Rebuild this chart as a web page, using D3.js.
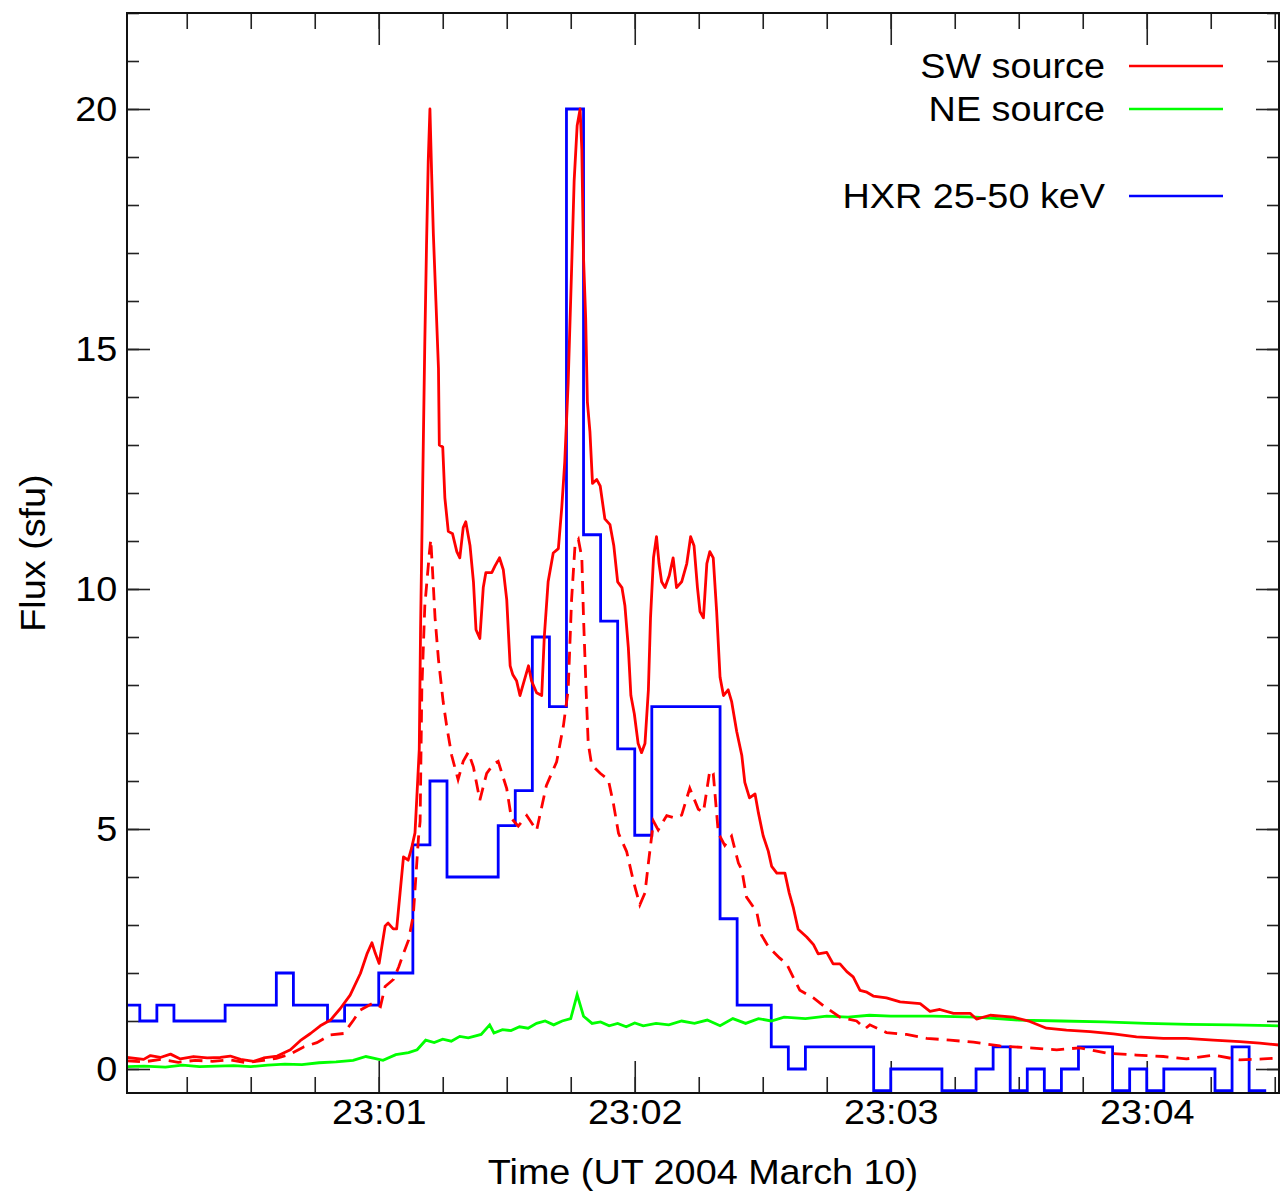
<!DOCTYPE html>
<html>
<head>
<meta charset="utf-8">
<script src="https://cdn.jsdelivr.net/npm/d3@7"></script>
<style>
  body { margin: 0; background: #fff; }
  svg { display: block; }
  text { font-family: "Liberation Sans", Arial, Helvetica, sans-serif; fill: #000; }
</style>
</head>
<body>
<svg width="1283" height="1196"></svg>
<script>
// --- data (time in seconds after 23:00:00 UT, flux in sfu) ---
const swTime = [1, 4.9, 6.5, 8.8, 11.2, 13.5, 16.6, 19.8, 22.9, 25.2, 27.6, 30.7, 33, 36.2, 39.3, 41.6, 44, 46.3, 48.7, 51,
  53.3, 55.7, 57.3, 58.4, 59.2, 60.1, 61.5, 62.2, 63.4, 64.2, 65.0, 65.8, 66.9, 67.7, 68.5, 69.0, 69.5, 69.8, 70.3, 70.8,
  71.2, 71.6, 72.0, 72.4, 72.8, 73.4, 74.0, 74.2, 75.0, 75.5, 76.3, 77.3, 78.3, 79.0, 79.8, 80.4, 81.4, 82.2, 82.8, 83.7,
  84.5, 85.1, 86.5, 87.2, 88.3, 89.2, 90.0, 90.8, 91.4, 92.3, 93.1, 93.9, 95.1, 95.8, 97.0, 98.2, 98.8, 99.7, 100.9, 102.1,
  102.9, 103.6, 104.4, 105.2, 105.8, 106.5, 107.2, 107.6, 108.0, 108.5, 108.9, 109.5, 110.1, 111.1, 111.9, 113.0, 114.2, 115.1, 116.0, 117.0,
  117.7, 118.5, 119.1, 119.9, 120.8, 121.6, 122.4, 123.2, 123.7, 124.4, 125.1, 125.7, 126.3, 127.1, 128.1, 129.0, 129.8, 131.0, 132.2, 133.1,
  133.9, 134.7, 135.3, 136.1, 136.9, 137.6, 138.4, 139.2, 140.0, 140.8, 141.9, 142.7, 143.9, 145.1, 145.8, 146.9, 148.2, 149.0, 150.1, 151.3,
  152.1, 153.3, 155.2, 156.2, 157.2, 158.3, 160.3, 161.9, 163.0, 165.0, 166.5, 168.1, 169.7, 171.2, 172.8, 174.4, 175.9, 179.0, 182.2, 186.9,
  189.2, 191.5, 194.7, 198.6, 200.1, 203.3, 208.7, 212.6, 216.5, 221.2, 226.7, 232.2, 237.6, 243.9, 249.3, 255.6, 261.8, 266.5, 271];
const swFlux = [0.24, 0.2, 0.28, 0.24, 0.31, 0.21, 0.26, 0.23, 0.24, 0.27, 0.2, 0.16, 0.23, 0.27, 0.4, 0.59, 0.74, 0.9, 1.02, 1.26,
  1.54, 1.99, 2.41, 2.63, 2.41, 2.2, 2.98, 3.04, 2.92, 2.92, 3.67, 4.42, 4.35, 4.6, 4.92, 5.78, 6.66, 9.15, 12.15, 15.15,
  17.15, 18.9, 20.0, 18.65, 17.4, 16.0, 14.6, 13.0, 12.96, 11.9, 11.2, 11.15, 10.78, 10.65, 11.28, 11.4, 10.9, 10.15, 9.15, 8.97,
  10.03, 10.34, 10.34, 10.47, 10.65, 10.4, 9.78, 8.4, 8.22, 8.09, 7.78, 8.03, 8.4, 8.09, 7.84, 7.78, 9.0, 10.15, 10.75, 10.84,
  11.7, 12.65, 14.3, 16.65, 18.5, 19.65, 20.0, 19.15, 16.9, 15.65, 13.9, 13.28, 12.2, 12.28, 12.15, 11.46, 11.34, 10.9, 10.15, 10.03,
  9.65, 8.78, 7.78, 7.4, 6.78, 6.59, 6.78, 7.9, 9.4, 10.65, 11.09, 10.53, 10.15, 10.03, 10.28, 10.65, 10.03, 10.15, 10.53, 11.09,
  10.9, 10.03, 9.53, 9.4, 10.53, 10.78, 10.65, 9.53, 8.16, 7.78, 7.9, 7.66, 7.03, 6.53, 5.97, 5.65, 5.73, 5.33, 4.86, 4.54,
  4.22, 4.08, 4.08, 3.67, 3.35, 2.91, 2.75, 2.59, 2.4, 2.43, 2.19, 2.19, 2.03, 1.92, 1.64, 1.6, 1.52, 1.48, 1.4, 1.36,
  1.2, 1.24, 1.16, 1.16, 1.04, 1.12, 1.08, 0.99, 0.85, 0.81, 0.78, 0.73, 0.67, 0.64, 0.64, 0.6, 0.57, 0.54, 0.5];

const swDashTime = [1, 5, 9, 13, 17, 21, 25, 29, 33, 36, 39, 42.4, 45.5, 48.7, 51.8, 54.1, 55.7, 58.8, 60.4, 61.5,
  63.5, 64.7, 65.8, 67, 68.1, 69.3, 69.7, 70.1, 70.8, 71.9, 72.2, 72.6, 73.2, 74.0, 75.1, 75.9, 77.1, 78.6, 79.8, 81.0,
  82.2, 83.7, 85.3, 86.9, 88.0, 90.0, 91.1, 92.7, 94.7, 97.0, 99.3, 101.7, 103.3, 104.4, 105.2, 106.0, 106.8, 107.6, 108.0, 108.6,
  109.1, 109.9, 111.9, 113.8, 115.0, 116.2, 118.1, 119.7, 121.2, 122.4, 123.2, 124.4, 125.5, 127.5, 129.4, 131.0, 132.9, 134.9, 136.1, 137.6,
  138.4, 139.6, 141.1, 142.7, 144.3, 145.1, 146.2, 148.6, 149.7, 151.3, 154.0, 155.6, 157.6, 158.7, 161.9, 164.2, 168.1, 172.0, 174.0, 175.1,
  179.0, 183.7, 188.4, 193.9, 199.4, 205.6, 212.6, 218.9, 224.3, 230.6, 237.6, 243.9, 249.3, 255.6, 261.8, 267.3, 271];
const swDashFlux = [0.17, 0.15, 0.2, 0.14, 0.18, 0.16, 0.19, 0.13, 0.18, 0.22, 0.3, 0.46, 0.55, 0.71, 0.74, 1.02, 1.23, 1.38, 1.3, 1.72,
  1.87, 2.13, 2.41, 2.69, 3.2, 4.8, 5.16, 7.9, 9.65, 10.78, 11.03, 10.4, 9.4, 8.53, 7.65, 7.16, 6.53, 6.03, 6.41, 6.6,
  6.29, 5.6, 6.16, 6.35, 6.41, 5.84, 5.22, 5.06, 5.28, 4.97, 5.91, 6.4, 7.16, 7.9, 9.78, 10.9, 11.03, 10.65, 9.4, 7.9,
  6.78, 6.34, 6.16, 6.03, 5.53, 4.91, 4.53, 3.91, 3.42, 3.67, 4.29, 5.16, 4.98, 5.28, 5.23, 5.29, 5.85, 5.41, 5.35, 6.22,
  6.16, 4.91, 4.66, 4.85, 4.29, 4.15, 3.58, 3.27, 2.79, 2.55, 2.31, 2.19, 1.83, 1.64, 1.48, 1.32, 1.08, 1.0, 0.84, 0.92,
  0.76, 0.72, 0.64, 0.6, 0.56, 0.48, 0.44, 0.4, 0.44, 0.33, 0.29, 0.26, 0.21, 0.29, 0.19, 0.21, 0.23];

const neTime = [1, 5, 10, 14, 18, 22, 26, 30, 34, 38, 42, 46, 50, 54, 57, 59, 61, 64, 67, 69,
  71, 73, 75, 77, 79, 81, 84, 86, 87, 89, 91, 93, 95, 97, 99, 101, 103, 105, 106.5, 108,
  110, 112, 114, 116, 118, 120, 122, 125, 128, 131, 134, 137, 140, 143, 146, 149, 152, 155, 160, 165,
  170, 175, 180, 190, 200, 210, 220, 230, 240, 250, 260, 271];
const neFlux = [0.05, 0.06, 0.04, 0.08, 0.05, 0.06, 0.07, 0.05, 0.08, 0.1, 0.09, 0.13, 0.15, 0.18, 0.26, 0.22, 0.18, 0.3, 0.34, 0.4,
  0.6, 0.55, 0.62, 0.58, 0.68, 0.65, 0.72, 0.92, 0.75, 0.82, 0.8, 0.88, 0.85, 0.95, 1.0, 0.92, 1.0, 1.05, 1.55, 1.1,
  0.95, 0.98, 0.9, 0.95, 0.88, 0.96, 0.9, 0.95, 0.92, 1.0, 0.95, 1.02, 0.9, 1.05, 0.95, 1.05, 1.0, 1.08, 1.05, 1.1,
  1.08, 1.12, 1.1, 1.1, 1.08, 1.02, 1.0, 0.98, 0.95, 0.93, 0.92, 0.9];

// HXR count-rate steps: edges (s) and level in each step
const hxrEdges = [0, 4, 8, 12, 24, 36, 40, 48, 52, 60, 68, 72, 76, 88, 92, 96, 100, 104, 108, 112,
  116, 120, 124, 140, 144, 152, 156, 160, 176, 180, 192, 200, 204, 208, 212, 216, 220, 224, 232, 236,
  240, 244, 256, 260, 264, 268];
const hxrFlux = [1.33, 1.0, 1.33, 1.0, 1.33, 2.0, 1.33, 1.0, 1.33, 2.0, 4.67, 6.0, 4.0, 5.07, 5.8, 9.0, 7.55, 20.0, 11.13, 9.33,
  6.67, 4.87, 7.55, 3.13, 1.33, 0.46, 0.0, 0.46, -0.45, 0.0, -0.45, 0.0, 0.46, -0.45, 0.0, -0.45, 0.0, 0.46, -0.45, 0.0,
  -0.45, 0.0, -0.45, 0.46, -0.45];

const xMajorTicks = [60, 120, 180, 240];
const yMajorTicks = [0, 5, 10, 15, 20];

const legendItems = [
  { label: "SW source", color: "#ff0000", y: 66 },
  { label: "NE source", color: "#00ff00", y: 109 },
  { label: "HXR 25-50 keV", color: "#0000ff", y: 196 }
];

// --- layout ---
const svg = d3.select("svg");
const plotL = 127, plotR = 1279, plotT = 13, plotB = 1093;
const fontSize = 35, stretch = 1.08;
const t0 = Date.UTC(2004, 2, 10, 23, 0, 0);
const toDate = s => new Date(t0 + s * 1000);

const x = d3.scaleUtc().domain([toDate(1), toDate(271)]).range([plotL, plotR]);
const y = d3.scaleLinear().domain([-0.5, 22]).range([plotB, plotT]);

const xMinor = x.ticks(d3.utcSecond.every(15));
const yMinor = d3.range(0, 23);

svg.append("defs").append("clipPath").attr("id", "plot")
  .append("rect").attr("x", plotL).attr("y", plotT).attr("width", plotR - plotL).attr("height", plotB - plotT);

function styleAxis(g) {
  g.select(".domain").remove();
  g.selectAll(".tick line").attr("stroke", "#222").attr("stroke-width", 1.6);
  g.selectAll("text").attr("font-size", fontSize).attr("font-family", null)
    .attr("transform", `scale(${stretch},1)`);
}

// minor ticks
svg.append("g").attr("transform", `translate(0,${plotB})`)
  .call(d3.axisBottom(x).tickValues(xMinor).tickSize(-16).tickFormat("")).call(styleAxis);
svg.append("g").attr("transform", `translate(0,${plotT})`)
  .call(d3.axisTop(x).tickValues(xMinor).tickSize(-16).tickFormat("")).call(styleAxis);
svg.append("g").attr("transform", `translate(${plotL},0)`)
  .call(d3.axisLeft(y).tickValues(yMinor).tickSize(-12).tickFormat("")).call(styleAxis);
svg.append("g").attr("transform", `translate(${plotR},0)`)
  .call(d3.axisRight(y).tickValues(yMinor).tickSize(-12).tickFormat("")).call(styleAxis);

// major ticks
svg.append("g").attr("transform", `translate(0,${plotB})`)
  .call(d3.axisBottom(x).tickValues(xMajorTicks.map(toDate)).tickSize(-32).tickPadding(6)
    .tickFormat(d3.utcFormat("%H:%M"))).call(styleAxis);
svg.append("g").attr("transform", `translate(0,${plotT})`)
  .call(d3.axisTop(x).tickValues(xMajorTicks.map(toDate)).tickSize(-32).tickFormat("")).call(styleAxis);
svg.append("g").attr("transform", `translate(${plotL},0)`)
  .call(d3.axisLeft(y).tickValues(yMajorTicks).tickSize(-23).tickPadding(9)).call(styleAxis);
svg.append("g").attr("transform", `translate(${plotR},0)`)
  .call(d3.axisRight(y).tickValues(yMajorTicks).tickSize(-23).tickFormat("")).call(styleAxis);

// data
const plot = svg.append("g").attr("clip-path", "url(#plot)");
const line = d3.line().x(d => x(toDate(d[0]))).y(d => y(d[1]));

const hxrPts = hxrFlux.map((v, i) => [hxrEdges[i], v]);
hxrPts.push([hxrEdges[hxrEdges.length - 1], hxrFlux[hxrFlux.length - 1]]);

plot.append("path").datum(hxrPts)
  .attr("d", line.curve(d3.curveStepAfter))
  .attr("fill", "none").attr("stroke", "#0000ff").attr("stroke-width", 2.8);
line.curve(d3.curveLinear);

plot.append("path").datum(neTime.map((t, i) => [t, neFlux[i]]))
  .attr("d", line).attr("fill", "none").attr("stroke", "#00ff00").attr("stroke-width", 2.8);

plot.append("path").datum(swDashTime.map((t, i) => [t, swDashFlux[i]]))
  .attr("d", line).attr("fill", "none").attr("stroke", "#ff0000").attr("stroke-width", 2.8)
  .attr("stroke-dasharray", "13,8");

plot.append("path").datum(swTime.map((t, i) => [t, swFlux[i]]))
  .attr("d", line).attr("fill", "none").attr("stroke", "#ff0000").attr("stroke-width", 2.8)
  .attr("stroke-linejoin", "round");

// frame
svg.append("rect").attr("x", plotL).attr("y", plotT).attr("width", plotR - plotL).attr("height", plotB - plotT)
  .attr("fill", "none").attr("stroke", "#111").attr("stroke-width", 2);

// axis titles
svg.append("text").attr("transform", `translate(${(plotL + plotR) / 2},1184) scale(${stretch},1)`)
  .attr("text-anchor", "middle").attr("font-size", fontSize).text("Time (UT 2004 March 10)");
svg.append("text").attr("transform", `translate(45,${(plotT + plotB) / 2}) rotate(-90) scale(${stretch},1)`)
  .attr("text-anchor", "middle").attr("font-size", fontSize).text("Flux (sfu)");

// legend
const legend = svg.append("g");
legendItems.forEach(d => {
  legend.append("text").attr("transform", `translate(1105,${d.y + 11.5}) scale(${stretch},1)`)
    .attr("text-anchor", "end").attr("font-size", fontSize).text(d.label);
  legend.append("line").attr("x1", 1129).attr("x2", 1223).attr("y1", d.y).attr("y2", d.y)
    .attr("stroke", d.color).attr("stroke-width", 2.4);
});
</script>
</body>
</html>
